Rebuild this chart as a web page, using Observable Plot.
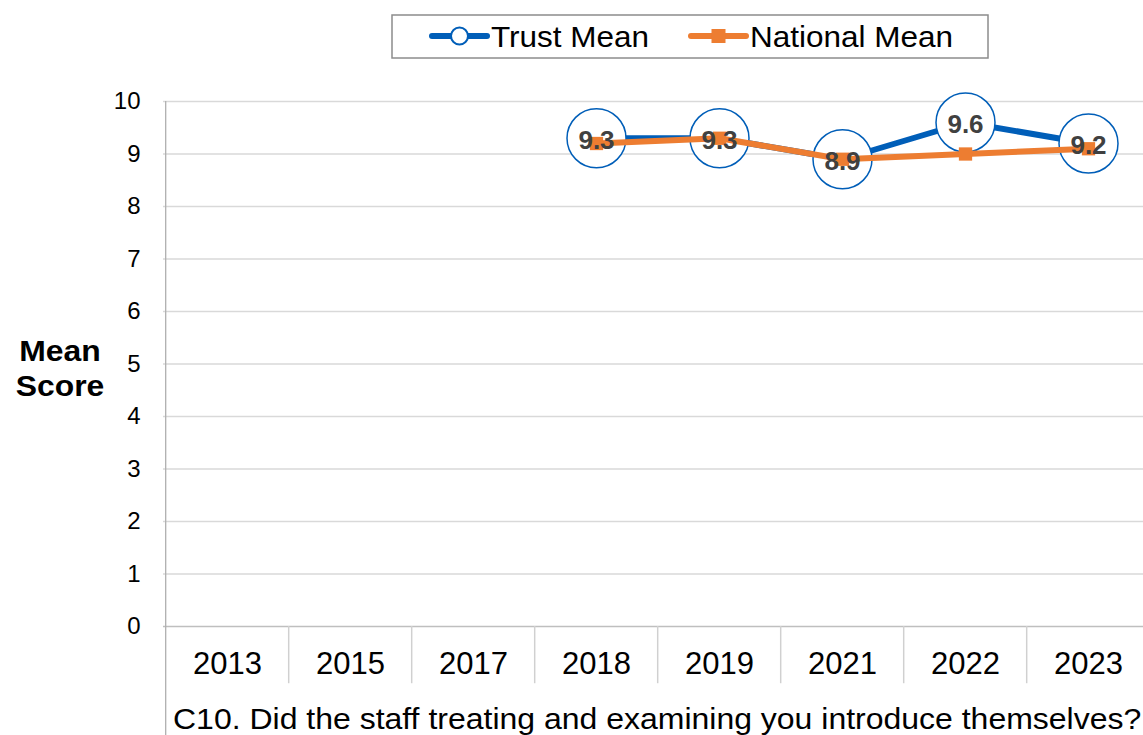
<!DOCTYPE html>
<html>
<head>
<meta charset="utf-8">
<script src="https://cdn.jsdelivr.net/npm/d3@7"></script>
<script src="https://cdn.jsdelivr.net/npm/@observablehq/plot@0.6"></script>
<style>
  html, body { margin: 0; padding: 0; background: #fff; overflow: hidden; }
  body { width: 1143px; height: 735px; position: relative; font-family: "Liberation Sans", Arial, sans-serif; }
  #chart { position: absolute; left: 0; top: 0; }
  #legend { position: absolute; left: 0; top: 0; }
  #ylabel { position: absolute; left: 0; width: 120px; top: 334px; text-align: center; font-weight: bold; font-size: 29px; line-height: 35px; color: #000; transform: scaleX(1.1); transform-origin: 60px 0; }
  #caption { position: absolute; left: 173px; top: 704px; font-size: 30px; line-height: 30px; color: #000; white-space: nowrap; transform: scaleX(1.066); transform-origin: 0 0; }
</style>
</head>
<body>
<div id="chart"></div>
<div id="ylabel">Mean<br>Score</div>
<div id="caption">C10. Did the staff treating and examining you introduce themselves?</div>
<svg id="legend" width="1143" height="70"></svg>
<script>
// ---- data ----
const years = ["2013", "2015", "2017", "2018", "2019", "2021", "2022", "2023"];
const seriesYears = ["2018", "2019", "2021", "2022", "2023"];
const trustValues = [9.3, 9.3, 8.9, 9.6, 9.2];
const nationalValues = [9.2, 9.3, 8.9, 9.0, 9.1];
const yTicks = [0, 1, 2, 3, 4, 5, 6, 7, 8, 9, 10];
const seriesNames = ["Trust Mean", "National Mean"];

const trust = seriesYears.map((y, i) => ({year: y, value: trustValues[i]}));
const national = seriesYears.map((y, i) => ({year: y, value: nationalValues[i]}));

const blue = "#005EB8";
const orange = "#ED7D31";

const xLeft = 163, xRight = 1152;
const bw = (xRight - xLeft) / years.length;

const chart = Plot.plot({
  width: 1143,
  height: 735,
  marginTop: 101,
  marginBottom: 109,
  marginLeft: 163,
  marginRight: 0,
  style: {fontFamily: "Liberation Sans, Arial, sans-serif", color: "#000", background: "transparent"},
  x: {type: "point", domain: years, range: [xLeft + bw / 2, xRight - bw / 2], padding: 0},
  y: {domain: [0, 10]},
  marks: [
    Plot.ruleY(yTicks.filter(d => d > 0), {stroke: "#d9d9d9", strokeWidth: 1.3}),
    Plot.ruleY([0], {stroke: "#bfbfbf", strokeWidth: 1.5}),
    Plot.ruleX(years.slice(1), {x: d => d, dx: -bw / 2, y1: () => 0, y2: () => -1.09, stroke: "#d0d0d0", strokeWidth: 1.5}),
    Plot.ruleX([years[0]], {x: d => d, dx: -bw / 2, y1: () => -2.3, y2: () => 10, stroke: "#b0b0b0", strokeWidth: 1.3}),
    Plot.axisY({ticks: yTicks, tickSize: 0, tickPadding: 23, fontSize: 24, label: null}),
    Plot.axisX({tickSize: 0, tickPadding: 25, fontSize: 31, label: null}),
    Plot.line(trust, {x: "year", y: "value", stroke: blue, strokeWidth: 6}),
    Plot.dot(trust, {x: "year", y: "value", r: 29.5, fill: "#fff", stroke: blue, strokeWidth: 1.5}),
    Plot.line(national, {x: "year", y: "value", stroke: orange, strokeWidth: 6}),
    Plot.dot(national, {x: "year", y: "value", symbol: "square", r: 7.5, fill: orange, stroke: null}),
    Plot.text(trust, {x: "year", y: "value", text: d => d.value.toFixed(1), fontSize: 26, fontWeight: "bold", fill: "#404040", dy: 2})
  ]
});
document.getElementById("chart").appendChild(chart);

// ---- legend ----
const lg = d3.select("#legend");
lg.append("rect").attr("x", 392).attr("y", 15).attr("width", 596).attr("height", 43)
  .attr("fill", "#fff").attr("stroke", "#8c8c8c").attr("stroke-width", 1.5);
// Trust
lg.append("line").attr("x1", 432).attr("x2", 487).attr("y1", 36).attr("y2", 36)
  .attr("stroke", blue).attr("stroke-width", 6).attr("stroke-linecap", "round");
lg.append("circle").attr("cx", 459.5).attr("cy", 36).attr("r", 8.5)
  .attr("fill", "#fff").attr("stroke", blue).attr("stroke-width", 2);
lg.append("text").attr("x", 491).attr("y", 36).attr("dy", "0.35em")
  .attr("font-size", 30).attr("font-family", "Liberation Sans, Arial, sans-serif")
  .attr("textLength", 158).attr("lengthAdjust", "spacingAndGlyphs").text(seriesNames[0]);
// National
lg.append("line").attr("x1", 691).attr("x2", 746).attr("y1", 36).attr("y2", 36)
  .attr("stroke", orange).attr("stroke-width", 6).attr("stroke-linecap", "round");
lg.append("rect").attr("x", 711.5).attr("y", 29).attr("width", 14).attr("height", 14).attr("fill", orange);
lg.append("text").attr("x", 750).attr("y", 36).attr("dy", "0.35em")
  .attr("font-size", 30).attr("font-family", "Liberation Sans, Arial, sans-serif")
  .attr("textLength", 203).attr("lengthAdjust", "spacingAndGlyphs").text(seriesNames[1]);
</script>
</body>
</html>
